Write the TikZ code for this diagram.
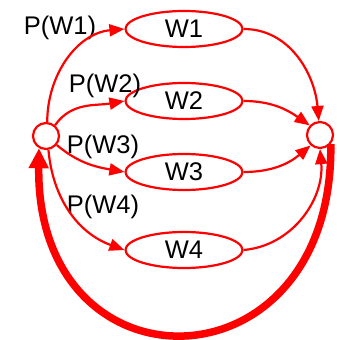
\documentclass[tikz,border=0pt]{standalone}
\usepackage{fontspec}
\setmainfont{Liberation Sans}
\usepackage{xcolor}
\definecolor{cFlow}{HTML}{FF0000}
\usepackage{tikz}
\usetikzlibrary{arrows.meta,shapes.geometric}
\tikzset{
  node-world/.style={draw=cFlow,line width=2.2pt,ellipse,inner sep=0pt,
    minimum width=117pt,minimum height=36pt,font=\fontsize{25.5}{30}\selectfont},
  node-junction/.style={draw=cFlow,line width=2.2pt,circle,inner sep=0pt,
    minimum size=26pt},
  label-prob/.style={font=\fontsize{25.5}{30}\selectfont,inner sep=0pt},
  arrow/.style={-{Triangle[length=15pt,width=12pt]},line width=2.2pt,draw=cFlow},
  arrow-back/.style={-{Triangle[length=20pt,width=19pt]},line width=7.5pt,draw=cFlow},
}

\begin{document}
\begin{tikzpicture}[x=1pt,y=1pt]
  \useasboundingbox (0,0) rectangle (337,340);
  \node[node-junction] (src) at (46,204) {};
  \node[node-junction] (snk) at (320,205) {};
  \node[node-world] (w1) at (184,311) {W1};
  \node[node-world] (w2) at (184,239) {W2};
  \node[node-world] (w3) at (184,168) {W3};
  \node[node-world] (w4) at (184,90)  {W4};
  \node[label-prob] (p1) at (60,312)  {P(W1)};
  \node[label-prob] (p2) at (105,254) {P(W2)};
  \node[label-prob] (p3) at (103,193) {P(W3)};
  \node[label-prob] (p4) at (103,133) {P(W4)};
  \draw[arrow] (src.85)  to[out=90,in=185]  (w1.west);
  \draw[arrow] (src.50)  to[out=55,in=190]  (w2.west);
  \draw[arrow] (src.-40) to[out=-40,in=170] (w3.west);
  \draw[arrow] (src.-80) to[out=-85,in=160] (w4.west);
  \draw[arrow] (w1.east) to[out=0,in=95]    (snk.95);
  \draw[arrow] (w2.east) to[out=0,in=145]   (snk.137);
  \draw[arrow] (w3.east) to[out=0,in=220]   (snk.228);
  \draw[arrow] (w4.east) to[out=5,in=-85]   (snk.-90);
  \draw[arrow-back] (snk.-40) .. controls +(3,-250) and +(-3,-250) .. (src.240);
\end{tikzpicture}
\end{document}
